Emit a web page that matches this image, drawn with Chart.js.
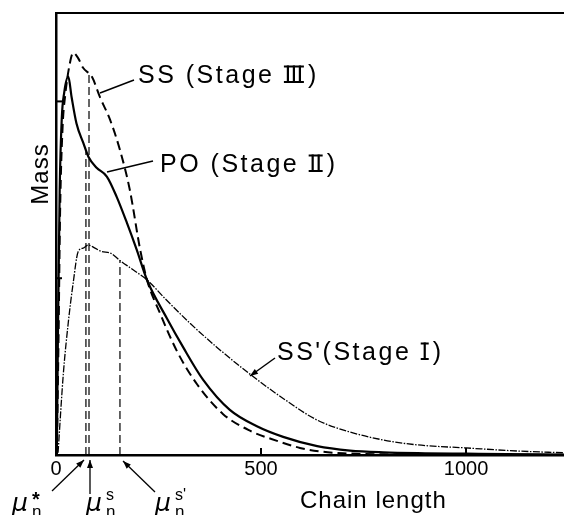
<!DOCTYPE html>
<html><head><meta charset="utf-8">
<script src="https://cdn.jsdelivr.net/npm/chart.js@4.4.1/dist/chart.umd.min.js"></script>
<style>html,body{margin:0;padding:0;background:#fff;overflow:hidden}#wrap{width:564px;height:515px;position:relative}</style>
</head><body><div id="wrap"><canvas id="c" width="564" height="515"></canvas></div>
<script>
// ---- data ----
const xTicks = [0, 500, 1000];
const yTicks = [40, 80];
const xMax = 1239;
const yMax = 100;

// SS (Stage III) - dashed
const ssX = [2, 6, 10, 16, 22, 34, 42, 54, 66, 88, 107, 132, 156, 180, 205, 222, 254, 295, 344, 407, 473, 539, 595, 644, 700, 800, 1000, 1239];
const ssY = [0, 25, 55, 74, 81, 88.7, 91, 89.8, 87.6, 85.5, 81, 75.8, 69, 60, 46.6, 39.6, 32, 23.5, 16, 9.3, 5.5, 3.2, 1.6, 0.8, 0.4, 0.15, 0.05, 0];

// PO (Stage II) - solid
const poX = [2, 5, 9, 14, 20, 30, 38, 50, 67, 79, 99, 124, 148, 173, 197, 222, 270, 310, 359, 424, 490, 554, 637, 717, 798, 900, 1000, 1100, 1239];
const poY = [0, 30, 60, 76, 82, 85.6, 81, 75, 70.5, 67.5, 65, 63, 58.4, 52.5, 46.4, 39.6, 31, 24.4, 17, 10.2, 6.5, 4.1, 2.0, 1.0, 0.6, 0.4, 0.3, 0.2, 0.1];

// SS' (Stage I) - dash-dot
const s1X = [5, 18, 30, 42, 54, 66, 79, 95, 112, 132, 156, 188, 222, 270, 327, 392, 473, 554, 637, 717, 798, 880, 1000, 1125, 1239];
const s1Y = [0.5, 18.5, 30, 39, 46, 46.8, 47.5, 46.8, 46, 45.7, 44, 41.9, 39.6, 35, 29.8, 24.4, 18.3, 12.8, 7.9, 5.2, 3.4, 2.3, 1.6, 0.9, 0.5];

// mean chain length markers (mu_n*, mu_n^s, mu_n^s')
const markerX = [73, 80.5, 156];
const markerTop = [68.7, 86.4, 44];
const markerSup = ['*', 's', "s'"];

// curve labels: [prefix, roman numeral, suffix]
const labels = [['SS (Stage ', 'III', ')'], ['PO (Stage ', 'II', ')'], ["SS'(Stage ", 'I', ')']];
const xTitle = 'Chain length';
const yTitle = 'Mass';

// ---- build ----
const pts = (xs, ys) => xs.map((v, i) => ({x: v, y: ys[i]}));
const datasets = [
  {data: pts(ssX, ssY), borderColor: '#000', borderWidth: 2, borderDash: [9, 5], cubicInterpolationMode: 'monotone'},
  {data: pts(poX, poY), borderColor: '#000', borderWidth: 2.2, cubicInterpolationMode: 'monotone'},
  {data: pts(s1X, s1Y), borderColor: '#000', borderWidth: 1.3, borderDash: [7, 1.5, 1.5, 1.5], cubicInterpolationMode: 'monotone'}
];
markerX.forEach((mx, i) => {
  datasets.push({data: [{x: mx, y: 0}, {x: mx, y: markerTop[i]}], borderColor: '#000', borderWidth: 1.2, borderDash: [8, 4]});
});

function arrow(ctx, x1, y1, x2, y2) {
  ctx.beginPath(); ctx.moveTo(x1, y1); ctx.lineTo(x2, y2); ctx.stroke();
  const a = Math.atan2(y2 - y1, x2 - x1), L = 8, W = 3;
  ctx.beginPath();
  ctx.moveTo(x2, y2);
  ctx.lineTo(x2 - L * Math.cos(a) + W * Math.sin(a), y2 - L * Math.sin(a) - W * Math.cos(a));
  ctx.lineTo(x2 - L * Math.cos(a) - W * Math.sin(a), y2 - L * Math.sin(a) + W * Math.cos(a));
  ctx.closePath(); ctx.fill();
}
function seg(ctx, x1, y1, x2, y2) { ctx.beginPath(); ctx.moveTo(x1, y1); ctx.lineTo(x2, y2); ctx.stroke(); }

// label with roman numeral drawn as bars between a top and bottom rule
function romanLabel(ctx, parts, x, y) {
  ctx.textAlign = 'left';
  ctx.fillText(parts[0], x, y);
  let cx = x + ctx.measureText(parts[0]).width + 2;
  const n = parts[1].length, gap = 6, capH = 17.5;
  const w = (n - 1) * gap + 4;
  ctx.save();
  ctx.lineWidth = 2.2;
  for (let i = 0; i < n; i++) seg(ctx, cx + 2 + i * gap, y - capH, cx + 2 + i * gap, y);
  ctx.lineWidth = 2;
  seg(ctx, cx - 2, y - capH + 1, cx + w + 2, y - capH + 1);
  seg(ctx, cx - 2, y - 1, cx + w + 2, y - 1);
  ctx.restore();
  cx += w + 6;
  ctx.fillText(parts[2], cx, y);
}

const deco = {
  id: 'deco',
  beforeDraw(chart) {
    const ctx = chart.ctx; ctx.save(); ctx.fillStyle = '#fff'; ctx.fillRect(0, 0, chart.width, chart.height); ctx.restore();
  },
  afterDraw(chart) {
    const {ctx, chartArea: a, scales: {x, y}} = chart;
    ctx.save();
    ctx.strokeStyle = '#000'; ctx.fillStyle = '#000'; ctx.lineWidth = 2;
    seg(ctx, a.left - 1, a.top, a.right, a.top);
    xTicks.forEach(v => { if (v > 0) { const px = x.getPixelForValue(v); seg(ctx, px, a.bottom, px, a.bottom - 7); } });
    yTicks.forEach(v => { const py = y.getPixelForValue(v); seg(ctx, a.left, py, a.left + 6, py); });

    // curve labels
    ctx.font = '25px "Liberation Sans", "DejaVu Sans", sans-serif';
    ctx.letterSpacing = '2.5px';
    ctx.textBaseline = 'alphabetic';
    romanLabel(ctx, labels[0], 138, 83);
    romanLabel(ctx, labels[1], 160, 172);
    romanLabel(ctx, labels[2], 277, 360);
    ctx.lineWidth = 1.5;
    seg(ctx, 134, 80, 100, 93);
    seg(ctx, 153, 161, 107, 172);
    arrow(ctx, 275, 358, 250, 376);

    // axis titles
    ctx.font = '24px "Liberation Sans", "DejaVu Sans", sans-serif';
    ctx.letterSpacing = '1px';
    ctx.textAlign = 'left';
    ctx.fillText(xTitle, 300, 508);
    ctx.save();
    ctx.translate(48, 174); ctx.rotate(-Math.PI / 2); ctx.textAlign = 'center';
    ctx.fillText(yTitle, 0, 0);
    ctx.restore();

    // mu markers
    ctx.letterSpacing = '0px';
    ctx.textAlign = 'left';
    const muX = [12, 86, 155];
    muX.forEach((px, i) => {
      const sup = markerSup[i];
      ctx.font = 'italic 25px "DejaVu Sans", sans-serif';
      ctx.fillText('μ', px, 511);
      ctx.font = '17px "Liberation Sans", sans-serif';
      ctx.fillText('n', px + 20, 517);
      ctx.font = (sup === '*' ? 'bold 20px' : '16px') + ' "Liberation Sans", sans-serif';
      ctx.fillText(sup, px + 20, sup === '*' ? 506 : 500);
    });
    ctx.lineWidth = 1.3;
    arrow(ctx, 52, 491, 84, 460);
    arrow(ctx, 90, 494, 90, 460);
    arrow(ctx, 155, 492, 123, 461);
    ctx.restore();
  }
};

new Chart(document.getElementById('c'), {
  type: 'line',
  data: {datasets},
  options: {
    responsive: false, animation: false, devicePixelRatio: 1,
    layout: {padding: {top: 13, left: 0, right: 0, bottom: 0}},
    plugins: {legend: {display: false}, tooltip: {enabled: false}},
    elements: {point: {radius: 0}},
    scales: {
      x: {
        type: 'linear', min: 0, max: xMax,
        afterBuildTicks: s => { s.ticks = xTicks.map(v => ({value: v})); },
        afterFit: s => { s.height = 60; },
        grid: {display: false, drawTicks: false},
        border: {display: true, color: '#000', width: 2.5},
        ticks: {color: '#000', padding: 2, maxRotation: 0, callback: v => String(v), font: {family: '"Liberation Sans", sans-serif', size: 20}}
      },
      y: {
        type: 'linear', min: 0, max: yMax,
        afterFit: s => { s.width = 56; },
        grid: {display: false, drawTicks: false},
        border: {display: true, color: '#000', width: 2.5},
        ticks: {display: false}
      }
    }
  },
  plugins: [deco]
});
</script></body></html>
